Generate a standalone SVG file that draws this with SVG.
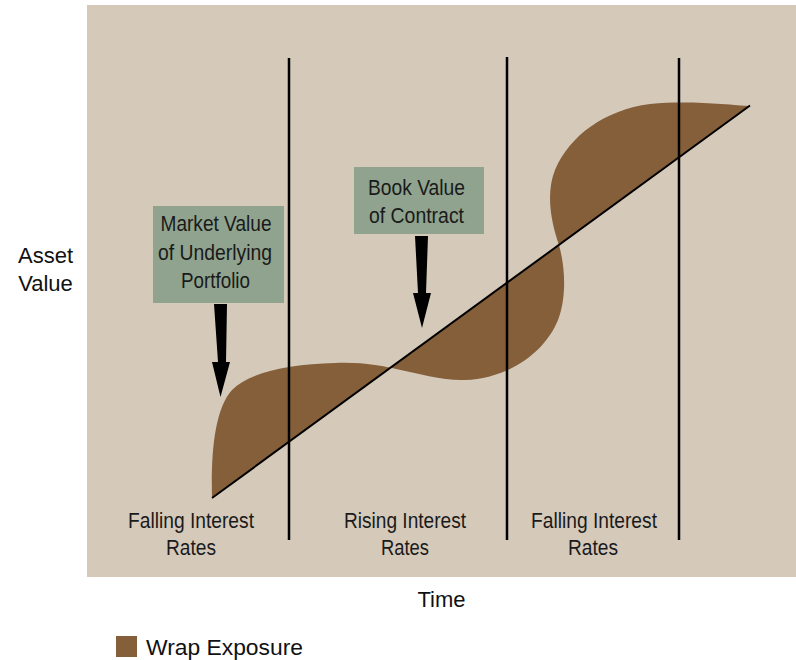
<svg xmlns="http://www.w3.org/2000/svg" width="796" height="660" viewBox="0 0 796 660">
<style>
.t{font-family:"Liberation Sans",Arial,sans-serif;fill:#111;}
.n{font-family:"Liberation Sans Narrow","Liberation Sans",Arial,sans-serif;fill:#1a1a1a;font-size:22.5px;text-anchor:middle;}
.ax{font-size:22px;text-anchor:middle;}
.box{fill:#8fa38e;}
.arrow{fill:#000;}
.div{stroke:#000;stroke-width:2.5;fill:none;}
.wrap{fill:#845f3a;}
</style>
<rect x="0" y="0" width="796" height="660" fill="#ffffff"/>
<rect id="plot-area" x="87" y="5" width="709" height="572" fill="#d5c9ba"/>
<g id="wrap-exposure-area">
<path class="wrap" d="M212,498 C211,455 214,410 232,390 C250,372 290,364 335,363 C365,362 380,366 392,368 C420,374 445,381 465,380 C510,378 545,352 558,320 C566,300 566,270 559,245 C552,225 545,195 555,170 C570,135 605,110 650,104 C690,100 730,105 750,106 L212,498 Z"/>
</g>
<g id="connectors">
<line class="div" x1="289" y1="58" x2="289" y2="540"/>
<line class="div" x1="507" y1="57" x2="507" y2="540"/>
<line class="div" x1="679" y1="58" x2="679" y2="540"/>
<line x1="212" y1="498" x2="750" y2="105.5" stroke="#000" stroke-width="2"/>
<polygon class="arrow" points="214,304 227,304 226,362 230,362 220.5,397 212,362 218,362"/>
<polygon class="arrow" points="415,236 428,236 426,293 431,293 422,328 413,293 418,293"/>
</g>
<g id="market-value-label">
<rect class="box" x="153" y="206" width="131" height="97"/>
<text class="n" x="216" y="231" textLength="111" lengthAdjust="spacingAndGlyphs">Market Value</text>
<text class="n" x="215" y="259.5" textLength="114" lengthAdjust="spacingAndGlyphs">of Underlying</text>
<text class="n" x="215.5" y="288" textLength="69" lengthAdjust="spacingAndGlyphs">Portfolio</text>
</g>
<g id="book-value-label">
<rect class="box" x="354" y="167" width="130" height="67"/>
<text class="n" x="416.5" y="195" textLength="97" lengthAdjust="spacingAndGlyphs">Book Value</text>
<text class="n" x="416.5" y="223" textLength="95" lengthAdjust="spacingAndGlyphs">of Contract</text>
</g>
<g id="period-1">
<text class="n" x="191" y="528" textLength="126" lengthAdjust="spacingAndGlyphs">Falling Interest</text>
<text class="n" x="191" y="555" textLength="50" lengthAdjust="spacingAndGlyphs">Rates</text>
</g>
<g id="period-2">
<text class="n" x="405" y="528" textLength="122" lengthAdjust="spacingAndGlyphs">Rising Interest</text>
<text class="n" x="405" y="555" textLength="48" lengthAdjust="spacingAndGlyphs">Rates</text>
</g>
<g id="period-3">
<text class="n" x="594" y="528" textLength="126" lengthAdjust="spacingAndGlyphs">Falling Interest</text>
<text class="n" x="593" y="555" textLength="50" lengthAdjust="spacingAndGlyphs">Rates</text>
</g>
<g id="y-axis-label">
<text class="t ax" x="45.5" y="263">Asset</text>
<text class="t ax" x="45.5" y="291">Value</text>
</g>
<g id="x-axis-label">
<text class="t ax" x="441.5" y="607">Time</text>
</g>
<g id="legend">
<rect class="wrap" x="116" y="636" width="21" height="21"/>
<text class="t" x="146" y="655" font-size="22" textLength="157" lengthAdjust="spacingAndGlyphs">Wrap Exposure</text>
</g>
</svg>
